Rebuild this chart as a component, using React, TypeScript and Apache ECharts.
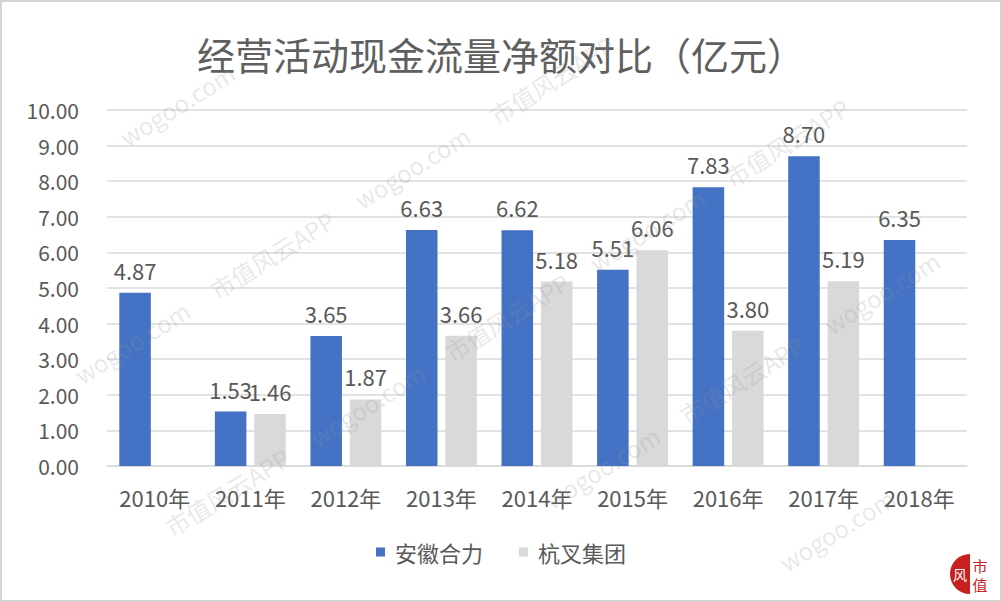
import React, { useEffect, useRef } from "react";
import * as echarts from "echarts";

const categories = ["2010年", "2011年", "2012年", "2013年", "2014年", "2015年", "2016年", "2017年", "2018年"];
const heliValues: (number | null)[] = [4.87, 1.53, 3.65, 6.63, 6.62, 5.51, 7.83, 8.7, 6.35];
const hangchaValues: (number | null)[] = [null, 1.46, 1.87, 3.66, 5.18, 6.06, 3.8, 5.19, null];
const seriesNames = ["安徽合力", "杭叉集团"];
const titleText = "经营活动现金流量净额对比（亿元）";
const watermarkTexts = ["wogoo.com", "市值风云APP"];

const FONT = "'Noto Sans CJK SC', 'Noto Sans', sans-serif";

function buildWatermarks() {
  const items: any[] = [];
  const angle = (32 * Math.PI) / 180;
  const step = 165;
  const ux = Math.cos(angle);
  const uy = -Math.sin(angle);
  const halfW = 72;
  const halfH = 14;
  const ex = halfW * Math.cos(angle) + halfH * Math.sin(angle);
  const ey = halfW * Math.sin(angle) + halfH * Math.cos(angle);
  for (let r = -4; r < 8; r++) {
    const bx = -60 + r * 95;
    const by = 40 + r * 150;
    for (let k = -2; k < 9; k++) {
      const x = bx + k * step * ux;
      const y = by + k * step * uy;
      if (x - ex < 4 || x + ex > 998 || y - ey < 4 || y + ey > 598) continue;
      items.push({
        type: "text",
        x,
        y,
        rotation: angle,
        silent: true,
        z: 100,
        style: {
          text: watermarkTexts[(k + r + 20) % 2],
          fontSize: 24,
          fontFamily: FONT,
          fill: "rgba(150,150,150,0.22)",
          align: "center",
          verticalAlign: "middle",
        },
      });
    }
  }
  return items;
}

export default function App() {
  const ref = useRef<HTMLDivElement>(null);
  useEffect(() => {
    document.body.style.margin = "0";
    if (!ref.current) return;
    const chart = echarts.init(ref.current, undefined, { renderer: "svg" });
    const labelStyle = {
      show: true,
      position: "top" as const,
      distance: 12,
      color: "#595959",
      fontSize: 22,
      fontFamily: FONT,
      formatter: (p: any) => (p.value == null ? "" : Number(p.value).toFixed(2)),
    };
    chart.setOption({
      animation: false,
      backgroundColor: "#ffffff",
      title: {
        text: titleText,
        left: "center",
        top: 27,
        textStyle: { fontSize: 38, fontWeight: "normal", color: "#5f5f5f", fontFamily: FONT },
      },
      legend: {
        data: seriesNames,
        bottom: 32,
        left: "center",
        icon: "rect",
        itemWidth: 9,
        itemHeight: 9,
        itemGap: 36,
        textStyle: { fontSize: 22, color: "#595959", fontFamily: FONT, padding: [0, 0, 0, 5] },
      },
      grid: { left: 105, right: 33, top: 108, bottom: 134 },
      xAxis: {
        type: "category",
        data: categories,
        axisTick: { show: false },
        axisLine: { lineStyle: { color: "#d9d9d9", width: 1.5 } },
        axisLabel: { color: "#595959", fontSize: 22, fontFamily: FONT, margin: 20 },
      },
      yAxis: {
        type: "value",
        min: 0,
        max: 10,
        interval: 1,
        axisLine: { show: false },
        axisTick: { show: false },
        splitLine: { lineStyle: { color: "#d9d9d9", width: 1.5 } },
        axisLabel: {
          color: "#595959",
          fontSize: 21,
          fontFamily: FONT,
          margin: 28,
          formatter: (v: number) => v.toFixed(2),
        },
      },
      series: [
        {
          name: seriesNames[0],
          type: "bar",
          data: heliValues,
          barWidth: "33%",
          barGap: "25%",
          itemStyle: { color: "#4472C4" },
          label: labelStyle,
        },
        {
          name: seriesNames[1],
          type: "bar",
          data: hangchaValues,
          barWidth: "33%",
          itemStyle: { color: "#D9D9D9" },
          label: labelStyle,
        },
      ],
      graphic: [
        ...buildWatermarks(),
        {
          type: "sector",
          z: 110,
          silent: true,
          shape: { cx: 968, cy: 572, r: 20, r0: 0, startAngle: Math.PI / 2, endAngle: (3 * Math.PI) / 2, clockwise: true },
          style: { fill: "#c8201e" },
        },
        {
          type: "text",
          z: 111,
          silent: true,
          x: 958,
          y: 572,
          style: { text: "风", fontSize: 14, fill: "#ffffff", align: "center", verticalAlign: "middle", fontFamily: FONT },
        },
        {
          type: "text",
          z: 111,
          silent: true,
          x: 978,
          y: 563,
          style: { text: "市", fontSize: 15, fill: "#c8201e", align: "center", verticalAlign: "middle", fontFamily: FONT },
        },
        {
          type: "text",
          z: 111,
          silent: true,
          x: 978,
          y: 582,
          style: { text: "值", fontSize: 15, fill: "#c8201e", align: "center", verticalAlign: "middle", fontFamily: FONT },
        },
      ],
    });
    return () => chart.dispose();
  }, []);
  return (
    <div
      ref={ref}
      style={{ width: 1002, height: 602, boxSizing: "border-box", border: "2px solid #d4d4d4", background: "#fff" }}
    />
  );
}
